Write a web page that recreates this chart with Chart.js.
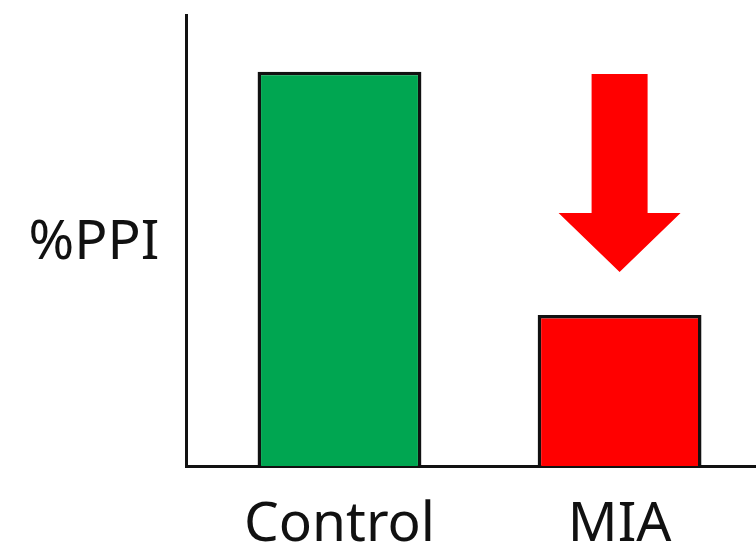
<!DOCTYPE html>
<html>
<head>
<meta charset="utf-8">
<script src="https://cdn.jsdelivr.net/npm/chart.js@4.4.1/dist/chart.umd.min.js"></script>
<style>
  html, body { margin: 0; padding: 0; background: #fff; }
  #wrap { width: 756px; height: 546px; }
</style>
</head>
<body>
<div id="wrap"><canvas id="myChart"></canvas></div>
<script>
// data
const groups = ['Control', 'MIA'];
const ppiValues = [87.4, 33.5];
const barColors = ['#00a651', '#ff0000'];
const yTitle = '%PPI';
// arrow over MIA: from top value down to tip value
const arrowGroup = 1;
const arrowFrom = 86.9;
const arrowTo = 43;

// y-axis label, written horizontally left of the axis
const yTitlePlugin = {
  id: 'yTitle',
  afterDraw(chart) {
    const ctx = chart.ctx;
    const area = chart.chartArea;
    ctx.save();
    ctx.font = '55px "Noto Sans"';
    ctx.fillStyle = '#111';
    ctx.textAlign = 'center';
    ctx.textBaseline = 'middle';
    ctx.fillText(yTitle, 94, (area.top + area.bottom) / 2 + 3);
    ctx.restore();
  }
};

// big down arrow
const arrowPlugin = {
  id: 'downArrow',
  afterDatasetsDraw(chart) {
    const ctx = chart.ctx;
    const x = chart.scales.x.getPixelForValue(arrowGroup);
    const yTop = chart.scales.y.getPixelForValue(arrowFrom);
    const yTip = chart.scales.y.getPixelForValue(arrowTo);
    const shaftHalf = 28, headHalf = 61, headLen = 59;
    ctx.save();
    ctx.fillStyle = '#ff0000';
    ctx.beginPath();
    ctx.moveTo(x - shaftHalf, yTop);
    ctx.lineTo(x + shaftHalf, yTop);
    ctx.lineTo(x + shaftHalf, yTip - headLen);
    ctx.lineTo(x + headHalf, yTip - headLen);
    ctx.lineTo(x, yTip);
    ctx.lineTo(x - headHalf, yTip - headLen);
    ctx.lineTo(x - shaftHalf, yTip - headLen);
    ctx.closePath();
    ctx.fill();
    ctx.restore();
  }
};

new Chart(document.getElementById('myChart'), {
  type: 'bar',
  data: {
    datasets: [{
      data: ppiValues.map((v, i) => ({ x: i, y: v })),
      backgroundColor: barColors,
      borderColor: '#111',
      borderWidth: 3.5,
      categoryPercentage: 0.585,
      barPercentage: 1
    }]
  },
  options: {
    responsive: true,
    maintainAspectRatio: false,
    animation: false,
    layout: { padding: { left: 186, top: 15, right: 0, bottom: -38 } },
    plugins: {
      legend: { display: false },
      tooltip: { enabled: false }
    },
    scales: {
      x: {
        type: 'linear',
        offset: false,
        min: -0.548,
        max: 1.487,
        afterBuildTicks: (scale) => {
          scale.ticks = groups.map((g, i) => ({ value: i }));
        },
        grid: { display: false, drawTicks: false },
        border: { display: true, color: '#111', width: 3 },
        ticks: {
          color: '#111',
          padding: 26,
          autoSkip: false,
          maxRotation: 0,
          callback: (v) => groups[v],
          font: { family: 'Noto Sans', size: 55 }
        }
      },
      y: {
        min: 0,
        max: 100,
        grid: { display: false, drawTicks: false },
        border: { display: true, color: '#111', width: 3 },
        ticks: { display: false }
      }
    }
  },
  plugins: [yTitlePlugin, arrowPlugin]
});
</script>
</body>
</html>
